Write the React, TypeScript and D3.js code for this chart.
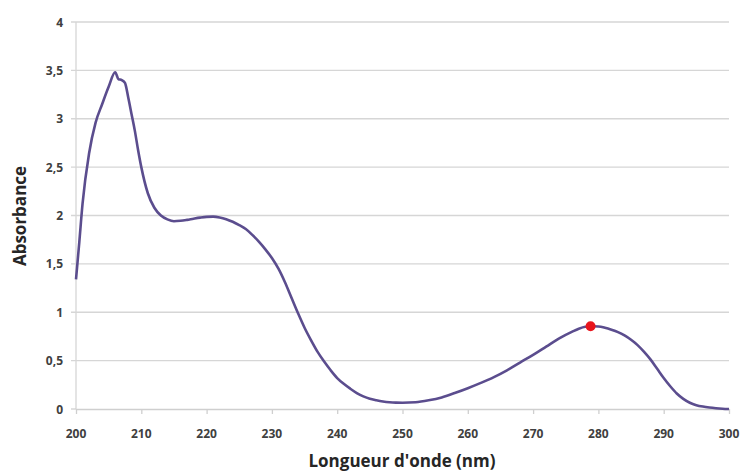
import React, { useRef, useEffect } from "react";
import * as d3 from "d3";

// wavelength (nm) / absorbance
const wavelengths = [
  200, 200.5, 201, 202, 203, 204, 205, 206, 206.5, 207, 207.5, 208, 208.5, 209, 209.5, 210,
  211, 212, 213, 214, 215, 216, 217, 218, 219, 220, 221, 222, 223, 224, 225, 226, 227, 228,
  229, 230, 231, 232, 233, 234, 235, 236, 237, 238, 239, 240, 241, 242, 243, 244, 245, 246,
  247, 248, 249, 250, 252, 254, 256, 258, 260, 262, 264, 266, 268, 270, 272, 274, 276, 277,
  278, 279, 280, 281, 282, 283, 284, 285, 286, 287, 288, 289, 290, 291, 292, 293, 294, 295,
  296, 297, 298, 299, 300,
];
const absorbance = [
  1.34, 1.72, 2.12, 2.64, 2.96, 3.15, 3.33, 3.48, 3.41, 3.4, 3.37, 3.22, 3.05, 2.88, 2.68, 2.5,
  2.23, 2.08, 2.0, 1.96, 1.94, 1.945, 1.955, 1.967, 1.978, 1.986, 1.988, 1.98, 1.962, 1.935,
  1.9, 1.86, 1.8, 1.73, 1.65, 1.56, 1.45, 1.31, 1.15, 0.99, 0.84, 0.71, 0.59, 0.49, 0.4, 0.32,
  0.26, 0.21, 0.165, 0.13, 0.105, 0.09, 0.078, 0.07, 0.066, 0.065, 0.07, 0.09, 0.12, 0.165,
  0.215, 0.27, 0.33, 0.4, 0.48, 0.56, 0.645, 0.73, 0.8, 0.83, 0.85, 0.855, 0.853, 0.84, 0.82,
  0.795, 0.76, 0.715, 0.66, 0.59, 0.51, 0.415, 0.32, 0.235, 0.16, 0.105, 0.065, 0.04, 0.025,
  0.015, 0.008, 0.003, 0,
];
const marker = [278.8, 0.855];

const xTicks = [200, 210, 220, 230, 240, 250, 260, 270, 280, 290, 300];
const yTicks = [0, 0.5, 1, 1.5, 2, 2.5, 3, 3.5, 4];
const xTitle = "Longueur d'onde (nm)";
const yTitle = "Absorbance";

function App() {
  const ref = useRef<HTMLDivElement>(null);

  useEffect(() => {
    const [width, height] = [743, 472];
    const margin = { top: 22, right: 14, bottom: 63, left: 76 };
    const font = "'Open Sans', sans-serif";

    const root = d3.select(ref.current);
    root.selectAll("*").remove();
    const svg = root
      .append("svg")
      .attr("width", width)
      .attr("height", height)
      .style("position", "absolute")
      .style("left", 0)
      .style("top", 0)
      .style("background", "#fff");

    const x = d3.scaleLinear().domain([200, 300]).range([margin.left, width - margin.right]);
    const y = d3.scaleLinear().domain([0, 4]).range([height - margin.bottom, margin.top]);

    // horizontal grid + y ticks
    svg
      .append("g")
      .selectAll("line")
      .data(yTicks.filter((d) => d > 0))
      .join("line")
      .attr("x1", margin.left - 5)
      .attr("x2", width - margin.right)
      .attr("y1", (d) => y(d))
      .attr("y2", (d) => y(d))
      .attr("stroke", "#d6d6d6")
      .attr("stroke-width", 1.3);

    // y axis line
    svg
      .append("line")
      .attr("x1", x(200))
      .attr("x2", x(200))
      .attr("y1", y(4))
      .attr("y2", y(0))
      .attr("stroke", "#d6d6d6")
      .attr("stroke-width", 1.3);

    // x axis
    const xAxis = d3
      .axisBottom(x)
      .tickValues(xTicks)
      .tickSize(5)
      .tickSizeOuter(0)
      .tickFormat(() => "");
    svg
      .append("g")
      .attr("transform", `translate(0,${y(0)})`)
      .call(xAxis)
      .call((g) => g.selectAll("line,path").attr("stroke", "#cfcfcf").attr("stroke-width", 1.3))
      .call((g) =>
        g
          .append("line")
          .attr("x1", margin.left - 5)
          .attr("x2", margin.left)
          .attr("stroke", "#cfcfcf")
          .attr("stroke-width", 1.3)
      );

    svg
      .append("g")
      .selectAll("text")
      .data(xTicks)
      .join("text")
      .attr("x", (d) => x(d))
      .attr("y", y(0) + 29)
      .attr("text-anchor", "middle")
      .attr("font-family", font)
      .attr("font-weight", 700)
      .attr("font-size", 12)
      .attr("fill", "#404040")
      .text((d) => d);

    svg
      .append("g")
      .selectAll("text")
      .data(yTicks)
      .join("text")
      .attr("x", margin.left - 13)
      .attr("y", (d) => y(d) + 4.5)
      .attr("text-anchor", "end")
      .attr("font-family", font)
      .attr("font-weight", 700)
      .attr("font-size", 12)
      .attr("fill", "#404040")
      .text((d) => String(d).replace(".", ","));

    // spectrum
    const data = wavelengths.map((w, i) => [w, absorbance[i]] as [number, number]);
    const line = d3
      .line<[number, number]>()
      .x((d) => x(d[0]))
      .y((d) => y(d[1]))
      .curve(d3.curveMonotoneX);
    svg
      .append("path")
      .datum(data)
      .attr("fill", "none")
      .attr("stroke", "#5b4d8e")
      .attr("stroke-width", 2.6)
      .attr("stroke-linejoin", "round")
      .attr("d", line);

    svg
      .append("circle")
      .attr("cx", x(marker[0]))
      .attr("cy", y(marker[1]))
      .attr("r", 5)
      .attr("fill", "#e8141c");

    // titles
    svg
      .append("text")
      .attr("x", 402)
      .attr("y", 467)
      .attr("text-anchor", "middle")
      .attr("font-family", font)
      .attr("font-weight", 700)
      .attr("font-size", 17)
      .attr("fill", "#262626")
      .text(xTitle);

    svg
      .append("text")
      .attr("transform", `translate(26,${216}) rotate(-90)`)
      .attr("text-anchor", "middle")
      .attr("font-family", font)
      .attr("font-weight", 700)
      .attr("font-size", 17)
      .attr("fill", "#262626")
      .text(yTitle);
  }, []);

  return <div ref={ref} />;
}

export default App;
